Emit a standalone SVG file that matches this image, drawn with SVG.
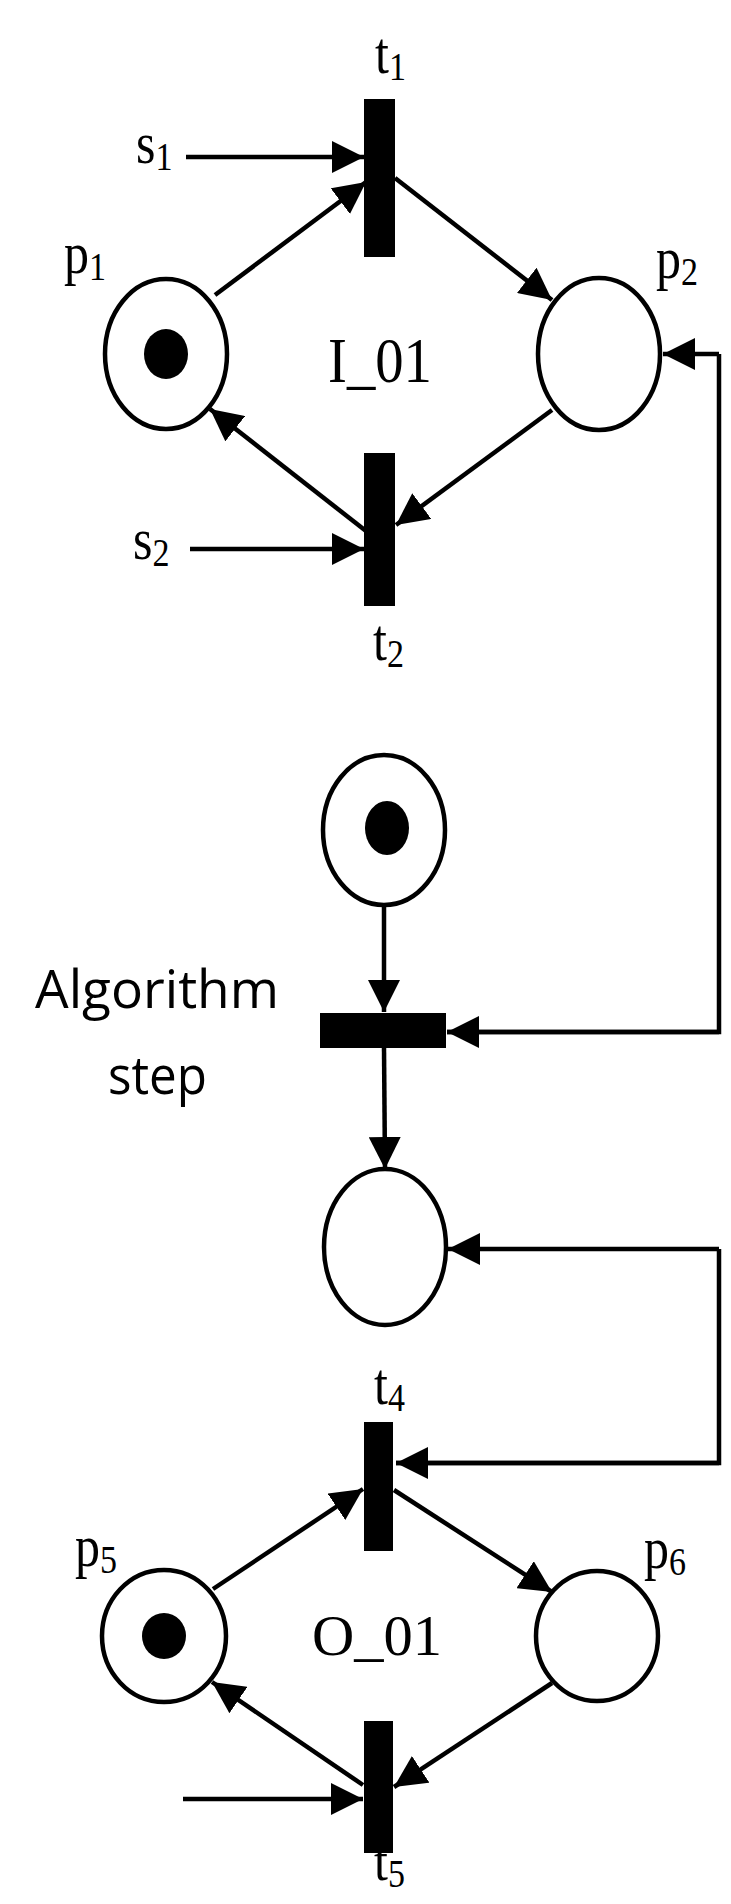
<svg xmlns="http://www.w3.org/2000/svg" width="731" height="1904" viewBox="0 0 731 1904">
<defs><marker id="a" markerWidth="32" markerHeight="32" refX="32" refY="16" orient="auto" markerUnits="userSpaceOnUse" viewBox="0 0 32 32"><path d="M0,0L32,16L0,32z" fill="#000"/></marker>
<style>.p{fill:#fff;stroke:#000;stroke-width:4.5}.l{stroke:#000;stroke-width:4.5;fill:none;marker-end:url(#a)}.s{stroke:#000;stroke-width:4.5;fill:none}.t{font-family:"Liberation Serif",serif;font-size:50px}.n{font-size:34px}.g{font-family:"Open Sans",sans-serif;font-size:44px}</style></defs>
<rect width="731" height="1904" fill="#fff"/>
<g id="connectors">
<path class="l" d="M186,157H364"/><path class="l" d="M215,295L366,182"/><path class="l" d="M395,178L552,300"/><path class="l" d="M552,410L396,525"/><path class="l" d="M366,531L210,409"/><path class="l" d="M190,549H364"/>
<path class="s" d="M447,1032H719V354"/><path class="l" d="M719,354H663"/>
<path class="l" d="M384,907V1012"/><path class="l" d="M384,1048L385,1169"/>
<path class="s" d="M396,1463H719V1249"/><path class="l" d="M719,1249H448"/>
<path class="l" d="M719,1463H396"/>
<path class="l" d="M719,1032H447"/>
<path class="l" d="M213,1589L363,1489"/><path class="l" d="M394,1490L552,1592"/><path class="l" d="M552,1683L394,1787"/><path class="l" d="M363,1785L212,1682"/><path class="l" d="M183,1799H363"/>
</g>
<g id="p1"><ellipse class="p" cx="166" cy="354" rx="61" ry="75"/><ellipse cx="166" cy="354" rx="22" ry="25"/><text class="t" transform="translate(64,273) scale(1,1.2)">p<tspan class="n" dy="6">1</tspan></text></g>
<g id="p2"><ellipse class="p" cx="599" cy="354" rx="61" ry="76"/><text class="t" transform="translate(656,278) scale(1,1.2)">p<tspan class="n" dy="6">2</tspan></text></g>
<g id="t1"><rect x="364" y="99" width="31" height="158"/><text class="t" transform="translate(375,73) scale(1,1.2)">t<tspan class="n" dy="6">1</tspan></text><text class="t" transform="translate(136,163) scale(1,1.2)">s<tspan class="n" dy="6">1</tspan></text></g>
<g id="t2"><rect x="364" y="453" width="31" height="153"/><text class="t" transform="translate(373,660) scale(1,1.2)">t<tspan class="n" dy="6">2</tspan></text><text class="t" transform="translate(133,559) scale(1,1.2)">s<tspan class="n" dy="6">2</tspan></text></g>
<text class="t" transform="translate(328,382) scale(1,1.25)" font-size="56" textLength="104" lengthAdjust="spacingAndGlyphs">I_01</text>
<g id="p3"><ellipse class="p" cx="384" cy="830" rx="61" ry="75"/><ellipse cx="387" cy="828" rx="22" ry="27"/></g>
<g id="t3"><rect x="320" y="1013" width="126" height="35"/><text class="g" transform="translate(35,1008) scale(1,1.2)" textLength="244" lengthAdjust="spacingAndGlyphs">Algorithm</text><text class="g" transform="translate(108,1094) scale(1,1.2)" textLength="99" lengthAdjust="spacingAndGlyphs">step</text></g>
<g id="p4"><ellipse class="p" cx="385" cy="1247" rx="61" ry="78"/></g>
<g id="t4"><rect x="364" y="1422" width="29" height="129"/><text class="t" transform="translate(374,1404) scale(1,1.2)">t<tspan class="n" dy="6">4</tspan></text></g>
<g id="t5"><rect x="364" y="1721" width="29" height="132"/><text class="t" transform="translate(374,1880) scale(1,1.15)">t<tspan class="n" dy="6">5</tspan></text></g>
<g id="p5"><ellipse class="p" cx="164" cy="1636" rx="62" ry="66"/><ellipse cx="164" cy="1636" rx="22" ry="23"/><text class="t" transform="translate(75,1566) scale(1,1.2)">p<tspan class="n" dy="6">5</tspan></text></g>
<g id="p6"><ellipse class="p" cx="597" cy="1636" rx="61" ry="65"/><text class="t" transform="translate(644,1568) scale(1,1.2)">p<tspan class="n" dy="6">6</tspan></text></g>
<text class="t" transform="translate(312,1655) scale(1,1.15)" font-size="56" textLength="130" lengthAdjust="spacingAndGlyphs">O_01</text>
</svg>
